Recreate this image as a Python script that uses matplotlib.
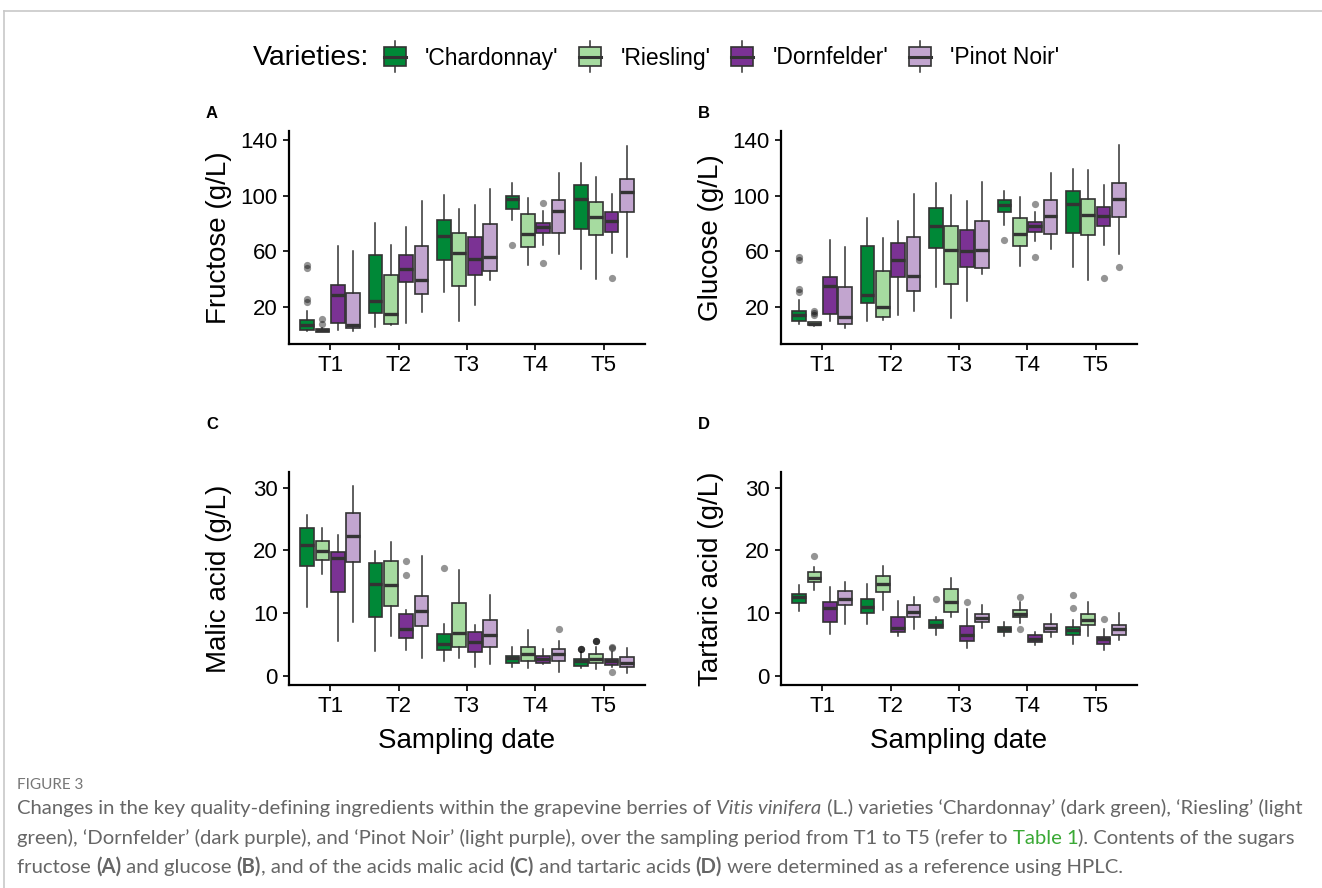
import matplotlib.pyplot as plt
from matplotlib.lines import Line2D
from matplotlib.patches import Rectangle
from matplotlib.legend_handler import HandlerBase

plt.rcParams['font.family'] = ['Liberation Sans', 'DejaVu Sans']

varieties = ["'Chardonnay'", "'Riesling'", "'Dornfelder'", "'Pinot Noir'"]
colors = ['#008837', '#a6dba0', '#7b3294', '#c2a5cf']
dates = ['T1', 'T2', 'T3', 'T4', 'T5']

# one row per variety, one (whisker low, Q1, median, Q3, whisker high) per date
fructose = [
    [(3.0, 3.8, 7.3, 10.9, 17.4), (5.7, 15.7, 24.1, 57.5, 80.5), (31.2, 54.0, 71.4, 82.4, 100.6), (82.6, 90.3, 97.5, 99.8, 108.9), (47.1, 76.3, 97.4, 107.7, 123.7)],
    [(1.8, 2.1, 3.3, 4.2, 4.8), (7.0, 7.8, 15.2, 43.0, 64.5), (9.7, 35.3, 59.2, 73.3, 90.5), (50.4, 63.5, 72.4, 86.7, 98.2), (39.9, 71.7, 84.5, 95.2, 113.2)],
    [(3.5, 8.8, 28.8, 36.0, 64.0), (8.5, 37.9, 47.5, 57.5, 77.6), (21.7, 43.2, 54.7, 70.2, 93.4), (64.7, 73.5, 77.9, 80.5, 89.0), (58.6, 74.1, 82.0, 88.3, 101.2)],
    [(2.5, 5.0, 7.3, 29.8, 60.6), (16.2, 29.6, 39.6, 64.0, 96.3), (39.4, 46.0, 56.3, 79.5, 104.9), (58.5, 73.0, 89.1, 97.0, 116.0), (55.7, 88.5, 102.4, 112.0, 135.9)],
]
fructose_out = [
    [[49.9, 48.4, 26.0, 23.6], [], [], [64.7], []],
    [[11.4, 7.8], [], [], [], []],
    [[], [], [], [95.0, 51.6], [41.0]],
    [[], [], [], [], []],
]

glucose = [
    [(7.8, 10.2, 14.0, 16.9, 24.8), (9.7, 22.6, 28.9, 64.2, 84.1), (34.4, 62.2, 78.6, 91.3, 109.3), (78.8, 88.4, 93.7, 97.0, 103.3), (49.0, 73.5, 94.4, 103.3, 119.1)],
    [(6.1, 6.8, 8.0, 9.2, 9.5), (10.9, 12.6, 19.8, 45.7, 69.7), (12.1, 36.8, 61.3, 78.6, 100.4), (49.8, 63.7, 72.6, 84.1, 99.0), (39.7, 71.6, 86.0, 98.0, 118.4)],
    [(9.7, 15.0, 35.1, 41.8, 68.5), (14.5, 41.6, 53.8, 65.8, 81.7), (24.6, 49.0, 60.1, 75.7, 96.1), (67.3, 74.2, 78.1, 81.0, 88.4), (64.4, 78.3, 85.5, 92.2, 107.4)],
    [(4.9, 8.2, 12.6, 34.2, 63.4), (16.9, 31.8, 42.1, 70.6, 101.6), (44.0, 48.1, 61.0, 81.9, 109.8), (62.0, 72.3, 85.5, 96.8, 116.5), (58.2, 84.6, 97.8, 109.3, 136.4)],
]
glucose_out = [
    [[55.8, 54.0, 33.0, 30.6], [], [], [68.5], []],
    [[16.9, 15.7, 14.5], [], [], [], []],
    [[], [], [], [94.2, 55.8], [40.9]],
    [[], [], [], [], [48.6]],
]

malic = [
    [(10.9, 17.5, 20.9, 23.5, 25.6), (3.9, 9.4, 14.6, 18.0, 19.9), (2.4, 4.1, 5.0, 6.6, 8.2), (1.4, 2.0, 2.8, 3.2, 4.6), (1.2, 1.6, 2.3, 2.65, 3.7)],
    [(16.2, 18.4, 19.9, 21.5, 23.5), (6.3, 11.1, 14.5, 18.3, 21.3), (2.8, 4.5, 6.8, 11.6, 16.9), (1.2, 2.4, 3.4, 4.6, 7.2), (1.1, 2.0, 2.7, 3.4, 4.6)],
    [(5.6, 13.4, 18.7, 19.8, 22.5), (4.1, 6.0, 7.4, 9.8, 10.5), (1.3, 3.8, 5.4, 7.0, 8.1), (1.9, 2.0, 2.7, 3.1, 4.3), (1.4, 1.7, 2.4, 2.7, 3.8)],
    [(8.6, 18.1, 22.3, 26.0, 30.3), (2.8, 7.9, 10.3, 12.7, 19.1), (1.9, 4.5, 6.5, 8.8, 12.8), (0.6, 2.4, 3.5, 4.3, 5.6), (0.4, 1.4, 2.0, 3.0, 4.4)],
]
malic_out = [
    [[], [], [17.1], [], [4.2, 4.3, 4.3]],
    [[], [], [], [], [5.5, 5.6, 5.6]],
    [[], [18.3, 16.1], [], [], [4.4, 4.5, 0.5]],
    [[], [], [], [7.4], []],
]

tartaric = [
    [(10.3, 11.6, 12.5, 13.0, 14.5), (8.2, 10.0, 11.0, 12.3, 14.7), (6.5, 7.6, 8.1, 8.9, 9.4), (6.4, 7.0, 7.5, 7.8, 8.6), (5.1, 6.5, 7.2, 7.7, 8.9)],
    [(13.6, 14.9, 15.6, 16.6, 17.3), (10.4, 13.4, 14.7, 15.9, 17.5), (9.4, 10.2, 11.7, 13.8, 15.5), (8.4, 9.3, 9.9, 10.5, 11.8), (6.3, 8.1, 8.9, 9.9, 11.7)],
    [(6.7, 8.6, 10.8, 11.7, 14.1), (6.4, 7.0, 7.6, 9.3, 11.9), (4.4, 5.6, 6.5, 7.9, 10.7), (4.9, 5.4, 5.9, 6.5, 6.9), (4.1, 5.0, 5.8, 6.1, 7.4)],
    [(8.3, 11.2, 12.3, 13.5, 14.9), (7.4, 9.3, 10.2, 11.2, 12.5), (7.6, 8.5, 9.2, 9.9, 11.3), (6.1, 6.9, 7.6, 8.3, 9.8), (5.7, 6.5, 7.4, 8.1, 10.0)],
]
tartaric_out = [
    [[], [], [12.3], [], [12.8, 10.8]],
    [[19.1], [], [], [12.5, 7.4], []],
    [[], [], [11.7], [], [9.1]],
    [[], [], [], [], []],
]

EDGE = '#333333'


def draw_panel(ax, stats, outliers, ylim, yticks, ylabel):
    for k, (rows, outs) in enumerate(zip(stats, outliers)):
        boxes = [dict(whislo=r[0], q1=r[1], med=r[2], q3=r[3], whishi=r[4], fliers=o)
                 for r, o in zip(rows, outs)]
        pos = [i + 1 + (k - 1.5) * 0.225 for i in range(len(dates))]
        ax.bxp(boxes, positions=pos, widths=0.2, patch_artist=True, showcaps=False,
               manage_ticks=False,
               boxprops=dict(facecolor=colors[k], edgecolor=EDGE, linewidth=1.2),
               medianprops=dict(color=EDGE, linewidth=2.4, solid_capstyle='butt'),
               whiskerprops=dict(color=EDGE, linewidth=1.1),
               flierprops=dict(marker='o', markerfacecolor='black', markeredgecolor='none',
                               alpha=0.42, markersize=5.2))
    ax.set_xlim(0.4, 5.6)
    ax.set_ylim(*ylim)
    ax.set_xticks(range(1, len(dates) + 1))
    ax.set_xticklabels(dates)
    ax.set_yticks(yticks)
    ax.spines[['top', 'right']].set_visible(False)
    ax.spines[['left', 'bottom']].set_linewidth(1.6)
    ax.tick_params(length=4, width=1.4, labelsize=16, colors='#222222', labelcolor='black', pad=4)
    ax.set_ylabel(ylabel, fontsize=20)
    ax.yaxis.set_label_coords(-0.16, 0.5)


fig = plt.figure(figsize=(13.22, 8.88), dpi=100)
W, H = 1322, 888


def axes_at(x0, x1, ytop, ybot):
    return fig.add_axes([x0 / W, 1 - ybot / H, (x1 - x0) / W, (ybot - ytop) / H])


ax_a = axes_at(289, 645, 131, 344)
ax_b = axes_at(781, 1137, 131, 344)
ax_c = axes_at(289, 645, 472, 685)
ax_d = axes_at(781, 1137, 472, 685)

draw_panel(ax_a, fructose, fructose_out, (-6.5, 146.5), [20, 60, 100, 140], 'Fructose (g/L)')
draw_panel(ax_b, glucose, glucose_out, (-6.5, 146.5), [20, 60, 100, 140], 'Glucose (g/L)')
draw_panel(ax_c, malic, malic_out, (-1.5, 32.5), [0, 10, 20, 30], 'Malic acid (g/L)')
draw_panel(ax_d, tartaric, tartaric_out, (-1.5, 32.5), [0, 10, 20, 30], 'Tartaric acid (g/L)')
for ax in (ax_c, ax_d):
    ax.set_xlabel('Sampling date', fontsize=20, labelpad=8)

for letter, (px, py) in zip('ABCD', [(212, 113), (704, 113), (212, 424), (704, 424)]):
    fig.text(px / W, 1 - py / H, letter, fontsize=12, fontweight='bold', ha='center', va='center')


# legend keys drawn as small boxplots
class BoxKey(HandlerBase):
    def create_artists(self, legend, orig_handle, xdescent, ydescent, width, height, fontsize, trans):
        x0, y0 = -xdescent, -ydescent
        cx = x0 + width / 2
        box = Rectangle((x0, y0 - 0.05 * height), width, 1.1 * height,
                        facecolor=orig_handle.get_facecolor(), edgecolor=EDGE, lw=1.2, transform=trans)
        mid = Line2D([x0, x0 + width], [y0 + height / 2] * 2, color=EDGE, lw=2.2, transform=trans)
        up = Line2D([cx, cx], [y0 + 1.05 * height, y0 + 1.4 * height], color=EDGE, lw=1.1, transform=trans)
        dn = Line2D([cx, cx], [y0 - 0.4 * height, y0 - 0.05 * height], color=EDGE, lw=1.1, transform=trans)
        return [up, dn, box, mid]


handles = [Rectangle((0, 0), 1, 1, facecolor=c) for c in colors]
fig.text(253 / W, 1 - 58 / H, 'Varieties:', fontsize=20.5, va='center', ha='left')
fig.legend(handles, varieties, handler_map={Rectangle: BoxKey()}, loc='center left',
           bbox_to_anchor=(384 / W, 1 - 58 / H), ncol=4, frameon=False, fontsize=16.5,
           borderpad=0, borderaxespad=0, handlelength=0.95, handleheight=0.8,
           handletextpad=0.85, columnspacing=0.9)

# page frame
fig.add_artist(Line2D([4 / W, 1], [1 - 11 / H] * 2, color='#c8c8c8', lw=1.2))
fig.add_artist(Line2D([4 / W, 4 / W], [0, 1 - 11 / H], color='#c8c8c8', lw=1.2))

# caption
cap_font = ['Lato', 'DejaVu Sans']
renderer = fig.canvas.get_renderer()


def rich_line(x, y, parts):
    for s, style in parts:
        props = dict(fontsize=14.6, color='#666666', family=cap_font, va='center', ha='left')
        props.update(style)
        t = fig.text(x, y, s, **props)
        x += t.get_window_extent(renderer).width / W


fig.text(17 / W, 1 - 785 / H, 'FIGURE 3', fontsize=11, color='#777777', family=cap_font, va='center')
rich_line(17 / W, 1 - 808 / H, [
    ('Changes in the key quality-defining ingredients within the grapevine berries of ', {}),
    ('Vitis vinifera', dict(style='italic')),
    (' (L.) varieties \u2018Chardonnay\u2019 (dark green), \u2018Riesling\u2019 (light', {}),
])
rich_line(17 / W, 1 - 838 / H, [
    ('green), \u2018Dornfelder\u2019 (dark purple), and \u2018Pinot Noir\u2019 (light purple), over the sampling period from T1 to T5 (refer to ', {}),
    ('Table 1', dict(color='#3aa935')),
    ('). Contents of the sugars', {}),
])
rich_line(17 / W, 1 - 867 / H, [
    ('fructose ', {}), ('(A)', dict(fontweight='bold')), (' and glucose ', {}),
    ('(B)', dict(fontweight='bold')), (', and of the acids malic acid ', {}),
    ('(C)', dict(fontweight='bold')), (' and tartaric acids ', {}),
    ('(D)', dict(fontweight='bold')), (' were determined as a reference using HPLC.', {}),
])

fig.savefig('out.png', dpi=100)
